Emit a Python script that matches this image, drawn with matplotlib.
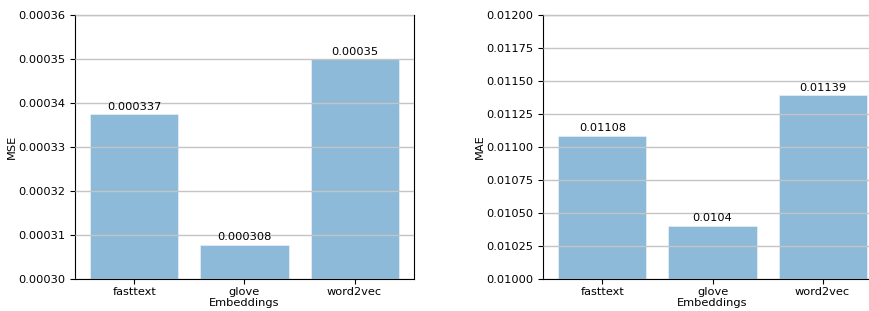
import matplotlib
matplotlib.use('Agg')
import matplotlib.pyplot as plt

# data
embeddings = ['fasttext', 'glove', 'word2vec']
mse = [0.0003374, 0.0003077, 0.0003499]
mae = [0.011082, 0.010401, 0.011391]

plt.rcParams['font.size'] = 8.2

W, H = 870, 311
fig = plt.figure(figsize=(W / 100, H / 100), dpi=100)

# (left px, bottom px, width px, height px); the right panel runs off the canvas like the original
ax1 = fig.add_axes([75 / W, 32 / H, 339 / W, 264 / H])
ax2 = fig.add_axes([543 / W, 32 / H, 339 / W, 264 / H])

panels = [
    (ax1, mse, 'MSE', (0.0003, 0.00036), 0.00001, 6, '{:.5f}'),
    (ax2, mae, 'MAE', (0.01, 0.012), 0.00025, 5, '{:.5f}'),
]

for ax, vals, name, ylim, step, nd, fmt in panels:
    bars = ax.bar(embeddings, vals, color='#1f77b4', alpha=0.5, edgecolor='white', linewidth=0.6)
    ax.set_ylim(*ylim)
    ticks = [ylim[0] + i * step for i in range(int(round((ylim[1] - ylim[0]) / step)) + 1)]
    ax.set_yticks(ticks)
    ax.set_yticklabels([fmt.format(t) for t in ticks])
    ax.yaxis.grid(True, color='#c4c4c4', linewidth=1.0)
    ax.set_axisbelow(False)
    ax.tick_params(axis='x', pad=2.5)
    ax.set_ylabel(name, labelpad=1)
    ax.set_xlabel('Embeddings', labelpad=0.5)
    for b, v in zip(bars, vals):
        ax.annotate(str(round(v, nd)), (b.get_x() + b.get_width() / 2, v),
                    xytext=(0, 2), textcoords='offset points', ha='center', va='bottom')

fig.savefig('out.png', dpi=100)
